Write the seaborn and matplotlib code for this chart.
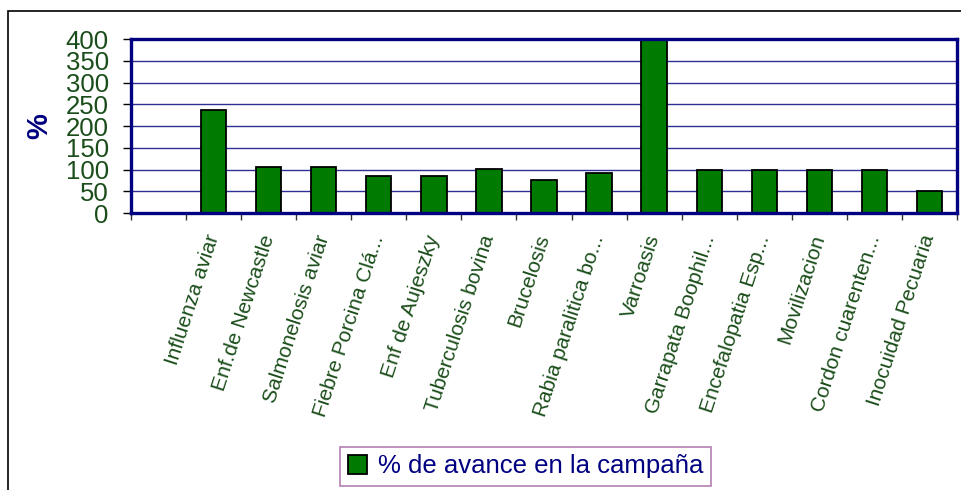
"""Bar chart: % de avance en la campaña."""

import matplotlib.pyplot as plt
import numpy as np
import pandas as pd
import seaborn as sns
from matplotlib.patches import Rectangle

campaigns = [
    "Influenza aviar",
    "Enf.de Newcastle",
    "Salmonelosis aviar",
    "Fiebre Porcina Clá...",
    "Enf de Aujeszky",
    "Tuberculosis bovina",
    "Brucelosis",
    "Rabia paralitica bo...",
    "Varroasis",
    "Garrapata Boophil...",
    "Encefalopatia Esp...",
    "Movilizacion",
    "Cordon cuarenten...",
    "Inocuidad Pecuaria",
]
avance = [237, 106, 106, 85, 85, 102, 75, 92, 400, 100, 100, 100, 100, 50]
slots = [""] + campaigns  # first slot is empty in the original
y_ticks = list(range(0, 401, 50))

series_name = "% de avance en la campaña"
navy = "#000080"
tick_green = "#1A4D1A"
bar_green = "#007A00"

sns.set_theme(style="white")
plt.rcParams["font.family"] = ["Liberation Sans", "DejaVu Sans"]

df = pd.DataFrame({"campaign": campaigns, "avance": avance})

fig = plt.figure(figsize=(9.61, 4.90), dpi=100)
ax = fig.add_axes([0.1363, 0.5653, 0.8595, 0.3551])

sns.barplot(
    data=df,
    x="campaign",
    y="avance",
    order=slots,
    color=bar_green,
    saturation=1,
    width=0.46,
    edgecolor="black",
    linewidth=1.3,
    label=series_name,
    legend=False,
    ax=ax,
)

ax.set_ylim(0, 400)
ax.set_xlim(-0.5, len(slots) - 0.5)
ax.set_yticks(y_ticks)
ax.set_yticklabels([str(v) for v in y_ticks], color=tick_green, fontsize=18.5)
ax.yaxis.grid(True, color="#2E2E96", linewidth=1.0)
ax.set_axisbelow(True)

ax.set_xticks(range(len(slots)))
ax.set_xticklabels(
    slots, rotation=72, ha="right", va="center", rotation_mode="anchor",
    color=tick_green, fontsize=15,
)
ax.set_xticks(np.arange(-0.5, len(slots)), minor=True)
ax.tick_params(axis="x", which="major", length=0, pad=16)
ax.tick_params(axis="x", which="minor", length=5, width=1, color="#333333",
               direction="out", bottom=True)
ax.tick_params(axis="y", length=6, width=1, color="black", direction="out",
               left=True, pad=10)

ax.set_xlabel("")
ax.set_ylabel("%", color=navy, fontsize=21, fontweight="bold", labelpad=9)

for side in ["top", "left", "bottom", "right"]:
    ax.spines[side].set_visible(True)
    ax.spines[side].set_color(navy)
    ax.spines[side].set_linewidth(2.4)

# outer chart frame
fig.patches.append(
    Rectangle((8 / 961, -0.1), 1.2, 1 - 11 / 490 + 0.1, transform=fig.transFigure,
              fill=False, edgecolor="black", linewidth=1.2)
)

handle = Rectangle((0, 0), 1, 1, facecolor=bar_green, edgecolor="black", linewidth=1.3)
leg = fig.legend(
    [handle], [series_name],
    loc="center", bbox_to_anchor=(0.547, 0.048),
    fontsize=18.5, frameon=True, fancybox=False,
    edgecolor="#A060A0", handlelength=0.75, handleheight=0.75,
    handletextpad=0.45, borderpad=0.3, borderaxespad=0,
)
leg.get_frame().set_linewidth(1.2)
for t in leg.get_texts():
    t.set_color(navy)

fig.savefig("out.png", dpi=100)
